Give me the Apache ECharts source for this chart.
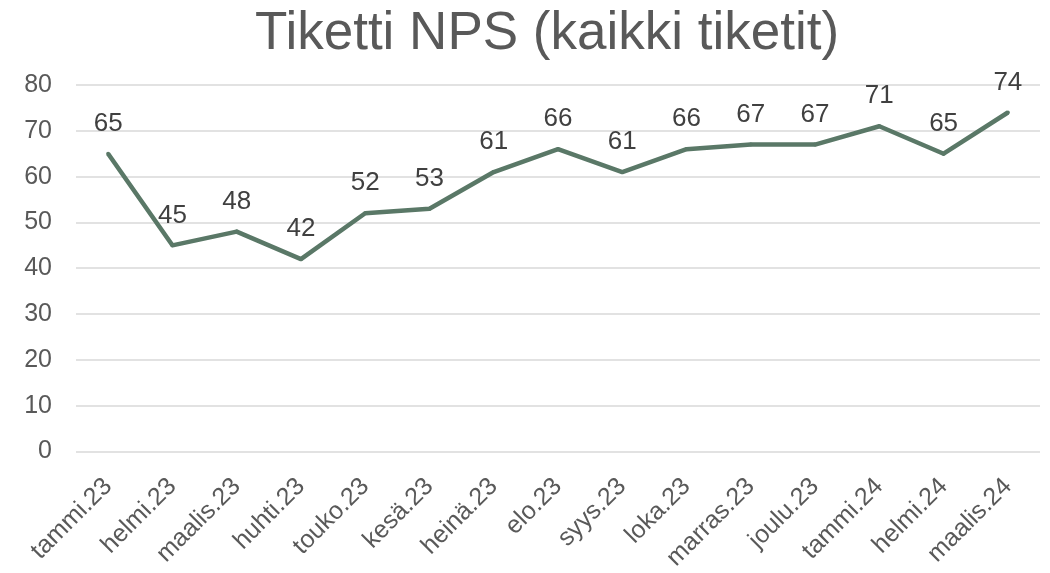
<!DOCTYPE html>
<html><head><meta charset="utf-8">
<script src="https://cdn.jsdelivr.net/npm/echarts@6/dist/echarts.min.js"></script>
<style>html,body{margin:0;padding:0;background:#fff}#c{width:1050px;height:573px}</style>
</head><body><div id="c"></div>
<script>
const categories = ['tammi.23','helmi.23','maalis.23','huhti.23','touko.23','kesä.23','heinä.23','elo.23','syys.23','loka.23','marras.23','joulu.23','tammi.24','helmi.24','maalis.24'];
const npsValues = [65,45,48,42,52,53,61,66,61,66,67,67,71,65,74];
const titleText = 'Tiketti NPS (kaikki tiketit)';
const FONT = '"Liberation Sans", Arial, sans-serif';
const LINE = '#5a7867';
const chart = echarts.init(document.getElementById('c'));
chart.setOption({
  animation: false,
  backgroundColor: '#ffffff',
  title: { text: titleText, left: 250, top: 3,
    textStyle: { fontFamily: FONT, fontSize: 53, fontWeight: 'normal', color: '#595959' } },
  grid: { left: 76, right: 10, top: 85, bottom: 120 },
  xAxis: { type: 'category', data: categories, boundaryGap: true,
    axisLine: { show: false }, axisTick: { show: false },
    axisLabel: { rotate: 45, interval: 0, margin: 31, fontFamily: FONT, fontSize: 25, color: '#595959' } },
  yAxis: { type: 'value', min: 0, max: 80, interval: 10,
    axisLine: { show: false }, axisTick: { show: false },
    splitLine: { lineStyle: { color: '#d9d9d9', width: 1.5 } },
    axisLabel: { margin: 24, fontFamily: FONT, fontSize: 25, color: '#595959' } },
  series: [{ type: 'line', data: npsValues, symbol: 'circle', symbolSize: 4, showSymbol: true,
    itemStyle: { color: LINE },
    lineStyle: { color: LINE, width: 4.5, join: 'round' },
    label: { show: true, position: 'top', distance: 15, fontFamily: FONT, fontSize: 26, color: '#404040' } }]
});
</script></body></html>
